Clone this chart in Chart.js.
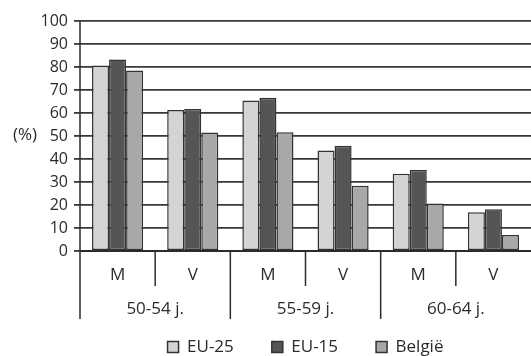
<!DOCTYPE html>
<html>
<head>
<meta charset="utf-8">
<script src="https://cdn.jsdelivr.net/npm/chart.js@4/dist/chart.umd.min.js"></script>
<style>
  html, body { margin: 0; padding: 0; background: #ffffff; }
  #wrap { width: 531px; height: 356px; position: relative; }
</style>
</head>
<body>
<div id="wrap"><canvas id="c" width="531" height="356"></canvas></div>
<script>
// Sub-categories (man / vrouw) and their age groups
const sexLabels = ['M', 'V', 'M', 'V', 'M', 'V'];
const ageGroups = ['50-54 j.', '55-59 j.', '60-64 j.'];

// Employment rates (%) per sub-category
const eu25 = [80.6, 61.3, 65.4, 43.7, 33.6, 16.8];
const eu15 = [83.3, 61.7, 66.6, 45.8, 35.2, 18.1];
const belgie = [78.5, 51.5, 51.6, 28.4, 20.7, 7.0];

const yTicks = [0, 10, 20, 30, 40, 50, 60, 70, 80, 90, 100];

const FONT = '"Open Sans", "DejaVu Sans", sans-serif';
const FS = 17;
const INK = '#2b2b2b';
const LEGEND_GAP = 38;
const LEGEND_MID = 347;

// Keeps the legend compact vertically while its items stay widely spaced
const legendPlace = {
  id: 'legendPlace',
  afterLayout(chart) {
    const lg = chart.legend;
    if (!lg) return;
    lg.top = LEGEND_MID - FS / 2 - LEGEND_GAP;
    lg.bottom = chart.height;
    lg.height = lg.bottom - lg.top;
  }
};

// Draws the "(%)" label and the separators of the two-level category axis
const axisDecor = {
  id: 'axisDecor',
  afterDraw(chart) {
    const ctx = chart.ctx;
    const area = chart.chartArea;
    const x = chart.scales.x;
    const n = sexLabels.length;
    const step = (x.getPixelForValue(1) - x.getPixelForValue(0));
    ctx.save();
    ctx.strokeStyle = INK;
    ctx.lineWidth = 1.8;
    // baseline
    ctx.beginPath();
    ctx.moveTo(area.left, area.bottom);
    ctx.lineTo(area.right, area.bottom);
    ctx.stroke();
    // separators: short ones between M and V, long ones between age groups
    ctx.lineWidth = 1.5;
    for (let i = 0; i <= n; i++) {
      const px = x.getPixelForValue(0) - step / 2 + i * step;
      if (px > chart.width - 1) continue;
      const groupEdge = i % 2 === 0;
      ctx.beginPath();
      ctx.moveTo(px, area.bottom);
      ctx.lineTo(px, area.bottom + (groupEdge ? 68 : 35));
      ctx.stroke();
    }
    ctx.beginPath();
    ctx.moveTo(area.left, area.top);
    ctx.lineTo(area.left, area.bottom);
    ctx.stroke();
    // unit label
    ctx.fillStyle = INK;
    ctx.font = FS + 'px ' + FONT;
    ctx.textAlign = 'center';
    ctx.textBaseline = 'middle';
    ctx.fillText('(%)', 25, 135);
    ctx.restore();
  }
};

const barStyle = { borderColor: '#333333', borderWidth: 1.5, borderSkipped: false };

new Chart(document.getElementById('c'), {
  type: 'bar',
  data: {
    labels: sexLabels,
    datasets: [
      Object.assign({ label: 'EU-25', data: eu25, backgroundColor: '#d3d4d6' }, barStyle),
      Object.assign({ label: 'EU-15', data: eu15, backgroundColor: '#545557' }, barStyle),
      Object.assign({ label: 'België', data: belgie, backgroundColor: '#a7a8aa' }, barStyle)
    ]
  },
  options: {
    responsive: false,
    animation: false,
    devicePixelRatio: 1,
    categoryPercentage: 0.68,
    barPercentage: 1.0,
    layout: { padding: { top: 21, right: 0, left: 0, bottom: 0 } },
    plugins: {
      tooltip: { enabled: false },
      legend: {
        position: 'bottom',
        fullSize: false,
        maxHeight: 33,
        labels: {
          color: INK,
          font: { family: FONT, size: FS },
          boxWidth: 11,
          boxHeight: 11,
          padding: LEGEND_GAP
        }
      }
    },
    scales: {
      x: {
        type: 'category',
        labels: sexLabels,
        offset: true,
        grid: { display: false, drawTicks: false },
        border: { display: false },
        ticks: { color: INK, font: { family: FONT, size: FS }, padding: 14, maxRotation: 0, autoSkip: false },
        afterFit(s) { s.height = 37; }
      },
      xGroup: {
        type: 'category',
        position: 'bottom',
        labels: ageGroups,
        offset: true,
        grid: { display: false, drawTicks: false },
        border: { display: false },
        ticks: { color: INK, font: { family: FONT, size: FS }, padding: 11, maxRotation: 0, autoSkip: false },
        afterFit(s) { s.height = 35; }
      },
      y: {
        min: 0,
        max: 100,
        afterBuildTicks(s) { s.ticks = yTicks.map(v => ({ value: v })); },
        grid: { color: '#383838', lineWidth: 1.8, tickLength: 6, drawTicks: true },
        border: { display: false },
        ticks: { color: INK, font: { family: FONT, size: 16 }, padding: 6, autoSkip: false },
        afterFit(s) { s.width = 80; }
      }
    }
  },
  plugins: [legendPlace, axisDecor]
});
</script>
</body>
</html>
